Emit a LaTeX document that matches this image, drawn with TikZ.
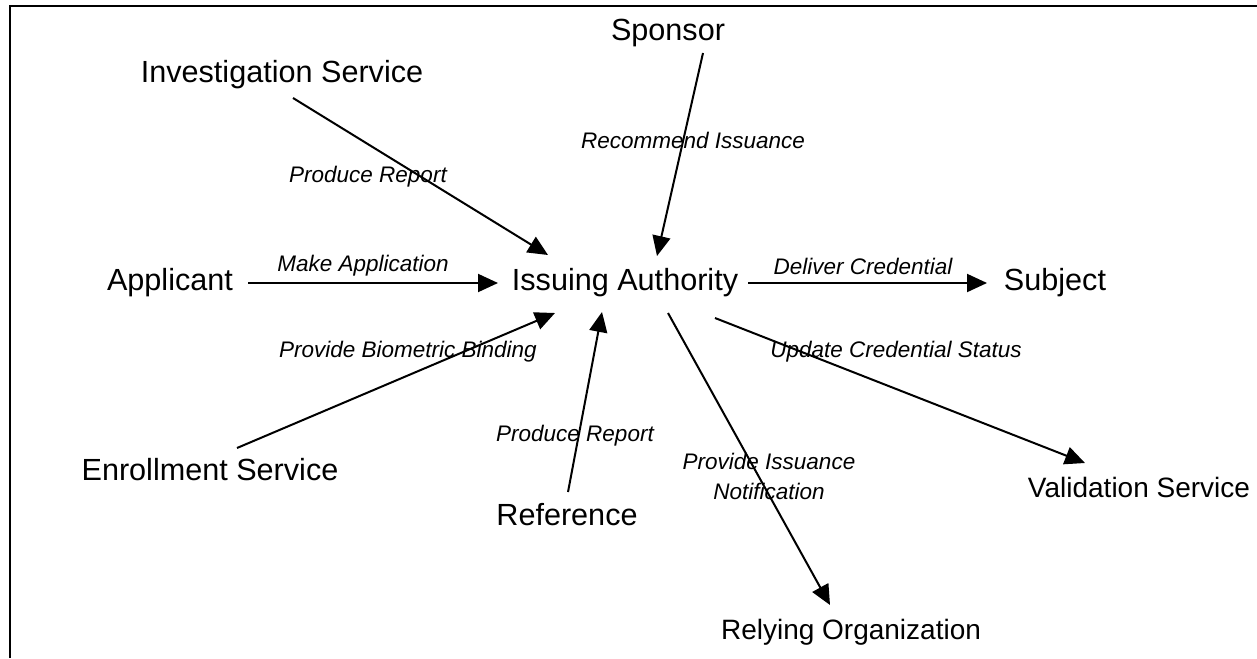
\documentclass[tikz,border=0pt]{standalone}
\usepackage{fontspec}
\setmainfont{Liberation Sans}
\usetikzlibrary{arrows.meta}
\tikzset{actor/.style={font=\fontsize{30.6}{34}\selectfont, inner sep=0pt},
smallactor/.style={font=\fontsize{28}{32}\selectfont, inner sep=0pt},
lbl/.style={font=\fontsize{22.5}{30}\selectfont\itshape, inner sep=0pt, align=center},
%filled arrow head as in the drawing
flow/.style={-{Triangle[length=20pt,width=18pt]}, line width=2pt}}

\begin{document}
\begin{tikzpicture}[x=1pt,y=-1pt]
\useasboundingbox (0,0) rectangle (1257,658);
% frame
\draw [line width=2pt](10,658)--(10,6)--(1257,6);

% parties
\node[actor] (ia) at (625,283) {Issuing Authority};
\node[actor] (sponsor) at (668,33) {Sponsor};
\node[actor] (inv) at (282,75) {Investigation Service};
\node[actor] (app) at (170,283) {Applicant};
\node[actor] (subj) at (1055,283) {Subject};
\node[actor] (enr) at (210,470) {Enrollment Service};
\node[actor] (ref) at (567,515) {Reference};
\node[smallactor] (val) at (1139,487) {Validation Service};
\node[smallactor] (rel) at (851,632) {Relying Organization};

% arrow ends
\coordinate (inv-out) at (293,98);   \coordinate (ia-inv) at (548,255);
\coordinate (sp-out) at (703,53);    \coordinate (ia-sp) at (657,256);
\coordinate (app-out) at (248,283);  \coordinate (ia-app) at (498,283);
\coordinate (ia-subj) at (748,283);  \coordinate (subj-in) at (987,283);
\coordinate (enr-out) at (237,448);  \coordinate (ia-enr) at (555,313);
\coordinate (ref-out) at (568,492);  \coordinate (ia-ref) at (602,312);
\coordinate (ia-rel) at (668,313);   \coordinate (rel-in) at (830,605);
\coordinate (ia-val) at (715,318);   \coordinate (val-in) at (1085,463);

\draw[flow] (inv-out) -- (ia-inv);
\draw[flow] (sp-out) -- (ia-sp);
\draw[flow] (app-out) -- (ia-app);
\draw[flow] (ia-subj) -- (subj-in);
\draw[flow] (enr-out) -- (ia-enr);
\draw[flow] (ref-out) -- (ia-ref);
\draw[flow] (ia-rel) -- (rel-in);
\draw[flow] (ia-val) -- (val-in);

%labels
\node[lbl] (l-inv) at (368,177) {Produce Report};
\node[lbl] (l-sp) at (693,140) {Recommend Issuance};
\node[lbl] (l-app) at (363,266) {Make Application};
\node[lbl] (l-subj) at (863,266) {Deliver Credential};
\node[lbl] (l-enr) at (408,352) {Provide Biometric Binding};
\node[lbl] (l-val) at (896,352) {Update Credential Status};
\node[lbl] (l-ref) at (575,436) {Produce Report};
\node[lbl] (l-rel) at (769,476) {Provide Issuance\\Notification};

\end{tikzpicture}
\end{document}
